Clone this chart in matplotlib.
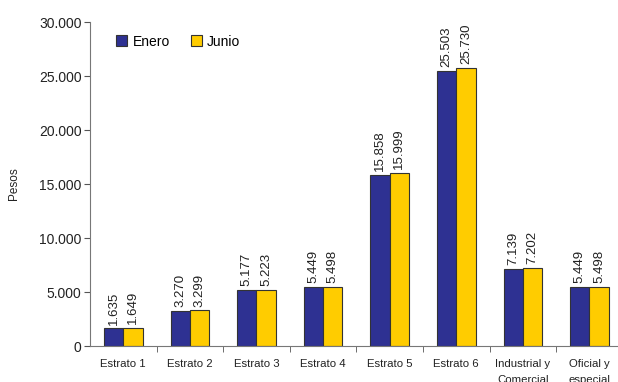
import matplotlib.pyplot as plt
import numpy as np

plt.rcParams['font.family'] = ['Liberation Sans', 'DejaVu Sans']

# Tarifas promedio por estrato
categorias = ['Estrato 1', 'Estrato 2', 'Estrato 3', 'Estrato 4', 'Estrato 5',
              'Estrato 6', 'Industrial y\nComercial', 'Oficial y\nespecial']
enero = [1635, 3270, 5177, 5449, 15858, 25503, 7139, 5449]
junio = [1649, 3299, 5223, 5498, 15999, 25730, 7202, 5498]

azul = '#2E3192'
amarillo = '#FFCC00'

fig = plt.figure(figsize=(6.18, 3.82), dpi=100)
ax = fig.add_axes([0.1456, 0.0942, 0.862, 0.8482])

x = np.arange(len(categorias))
w = 0.29
b1 = ax.bar(x - w / 2, enero, w, color=azul, edgecolor='#333333', linewidth=0.8, label='Enero')
b2 = ax.bar(x + w / 2, junio, w, color=amarillo, edgecolor='#333333', linewidth=0.8, label='Junio')

fmt = lambda v: f'{v:,}'.replace(',', '.')
for bars, vals in ((b1, enero), (b2, junio)):
    for r, v in zip(bars, vals):
        ax.text(r.get_x() + r.get_width() / 2, v + 350, fmt(v), rotation=90,
                ha='center', va='bottom', fontsize=9.5, color='#222222')

ax.set_xlim(-0.5, len(categorias) - 0.5)
ax.set_ylim(0, 30000)
ax.set_yticks(range(0, 30001, 5000))
ax.set_yticklabels([fmt(v) for v in range(0, 30001, 5000)], fontsize=10, color='#222222')
ax.set_xticks(x)
ax.set_xticklabels(categorias, fontsize=8.2, color='#222222', linespacing=1.85)
ax.tick_params(axis='x', length=0, pad=9)
ax.set_xticks(np.arange(0.5, len(categorias) - 0.5), minor=True)
ax.tick_params(axis='x', which='minor', length=4, color='#555555')
ax.tick_params(axis='y', length=4, color='#555555', pad=2)

for s in ('top', 'right'):
    ax.spines[s].set_visible(False)
for s in ('left', 'bottom'):
    ax.spines[s].set_color('#777777')

ax.set_ylabel('Pesos', fontsize=8.5, color='#222222', labelpad=14)

ax.legend(loc='upper left', bbox_to_anchor=(0.025, 1.0), ncol=2, frameon=False,
          fontsize=10, handlelength=0.8, handleheight=0.8, handletextpad=0.4,
          columnspacing=1.5)

fig.savefig('out.png', dpi=100)
